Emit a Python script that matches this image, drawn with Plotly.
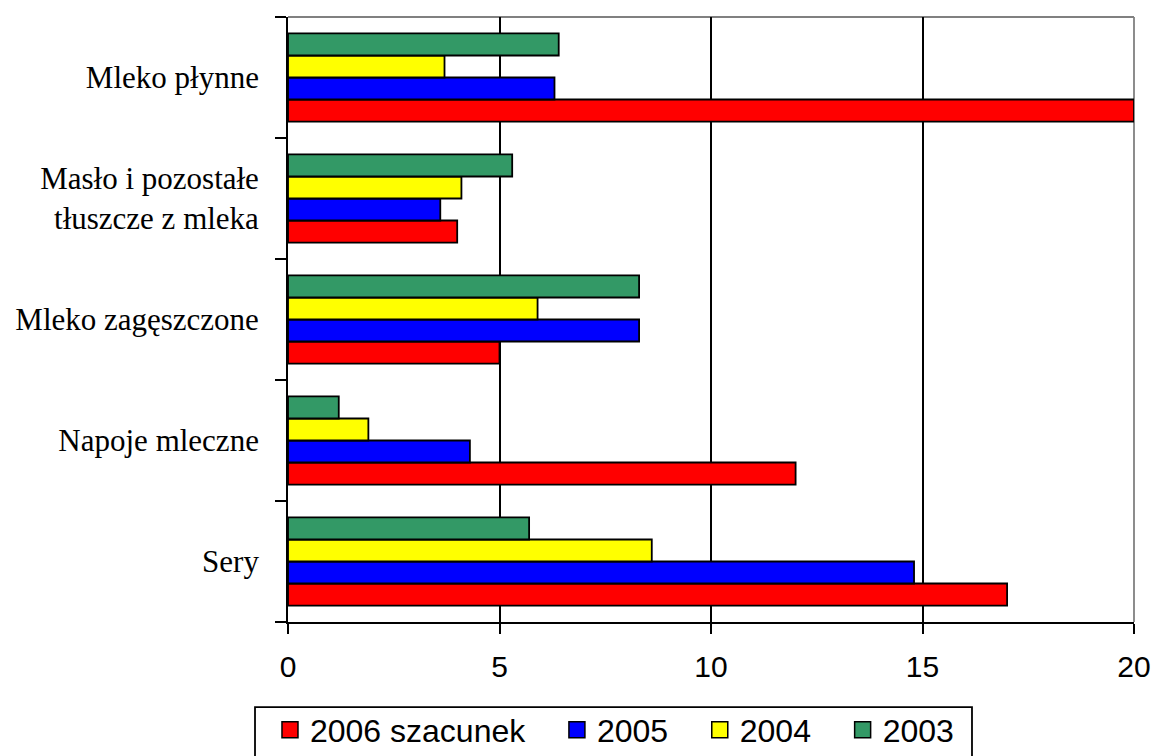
import plotly.graph_objects as go

categories = ["Sery", "Napoje mleczne", "Mleko zagęszczone",
              "Masło i pozostałe<br>tłuszcze z mleka", "Mleko płynne"]
series_names = ["2006 szacunek", "2005", "2004", "2003"]
v2006 = [17.0, 12.0, 5.0, 4.0, 20.0]
v2005 = [14.8, 4.3, 8.3, 3.6, 6.3]
v2004 = [8.6, 1.9, 5.9, 4.1, 3.7]
v2003 = [5.7, 1.2, 8.3, 5.3, 6.4]
x_ticks = [0, 5, 10, 15, 20]

series_values = [v2006, v2005, v2004, v2003]
colors = ["#FF0000", "#0000FF", "#FFFF00", "#339966"]
NB = "\u00a0"
legend_pad = [NB * 3, NB * 3, NB * 3, ""]

fig = go.Figure()
for name, vals, col in zip(series_names, series_values, colors):
    fig.add_trace(go.Bar(
        y=categories, x=vals, orientation="h", name=name,
        marker=dict(color=col, line=dict(color="black", width=1.8)),
        showlegend=False,
    ))
# legend entries (square swatches)
for name, col, pad in zip(series_names, colors, legend_pad):
    fig.add_trace(go.Scatter(
        x=[None], y=[None], mode="markers", name=name + pad,
        marker=dict(symbol="square", size=20, color=col,
                    line=dict(color="black", width=1.5)),
        showlegend=True,
    ))

fig.update_layout(
    width=1153, height=756,
    margin=dict(l=288, r=19, t=17, b=134.3, autoexpand=False),
    plot_bgcolor="white", paper_bgcolor="white",
    barmode="group", bargap=0.272, bargroupgap=0,
    showlegend=True,
    legend=dict(
        orientation="h", x=-0.0213, xanchor="left", y=-0.133, yanchor="top",
        borderwidth=0, bgcolor="rgba(0,0,0,0)",
        font=dict(family="Liberation Sans, Arial", size=32, color="black"),
        traceorder="normal", itemsizing="trace",
    ),
    xaxis=dict(
        range=[0, 20], tickvals=x_ticks, ticks="outside", ticklen=10,
        tickwidth=1.5, tickcolor="black",
        showline=True, linecolor="black", linewidth=1.8,
        showgrid=False, zeroline=False,
        minor=dict(tickvals=[5, 10, 15], showgrid=True, gridcolor="black",
                   gridwidth=1.5, ticks=""),
        tickfont=dict(family="Liberation Sans, Arial", size=30, color="black"),
        ticklabelstandoff=7, ticklabeloverflow="allow",
    ),
    yaxis=dict(
        categoryorder="array", categoryarray=categories,
        ticks="outside", ticklen=11, tickwidth=1.5, tickcolor="black",
        tickson="boundaries",
        showline=True, linecolor="black", linewidth=1.8,
        showgrid=False, zeroline=False,
        tickfont=dict(family="Liberation Serif, Times New Roman", size=31, color="black"),
        ticklabelstandoff=21,
    ),
    shapes=[
        dict(type="line", xref="paper", yref="paper", x0=0, x1=1, y0=1, y1=1,
             line=dict(color="#808080", width=1.8), layer="between"),
        dict(type="line", xref="paper", yref="paper", x0=1, x1=1, y0=0, y1=1,
             line=dict(color="#808080", width=1.8), layer="between"),
        # legend frame
        dict(type="rect", xref="paper", yref="paper",
             x0=-0.039, x1=0.8085, y0=-0.245, y1=-0.1406,
             line=dict(color="black", width=1.8), fillcolor="rgba(0,0,0,0)",
             layer="above"),
    ],
)

fig.write_html(
    "out.html",
    config={"displayModeBar": False},
    post_script="document.body.style.margin='0';document.body.style.overflow='hidden';",
)
